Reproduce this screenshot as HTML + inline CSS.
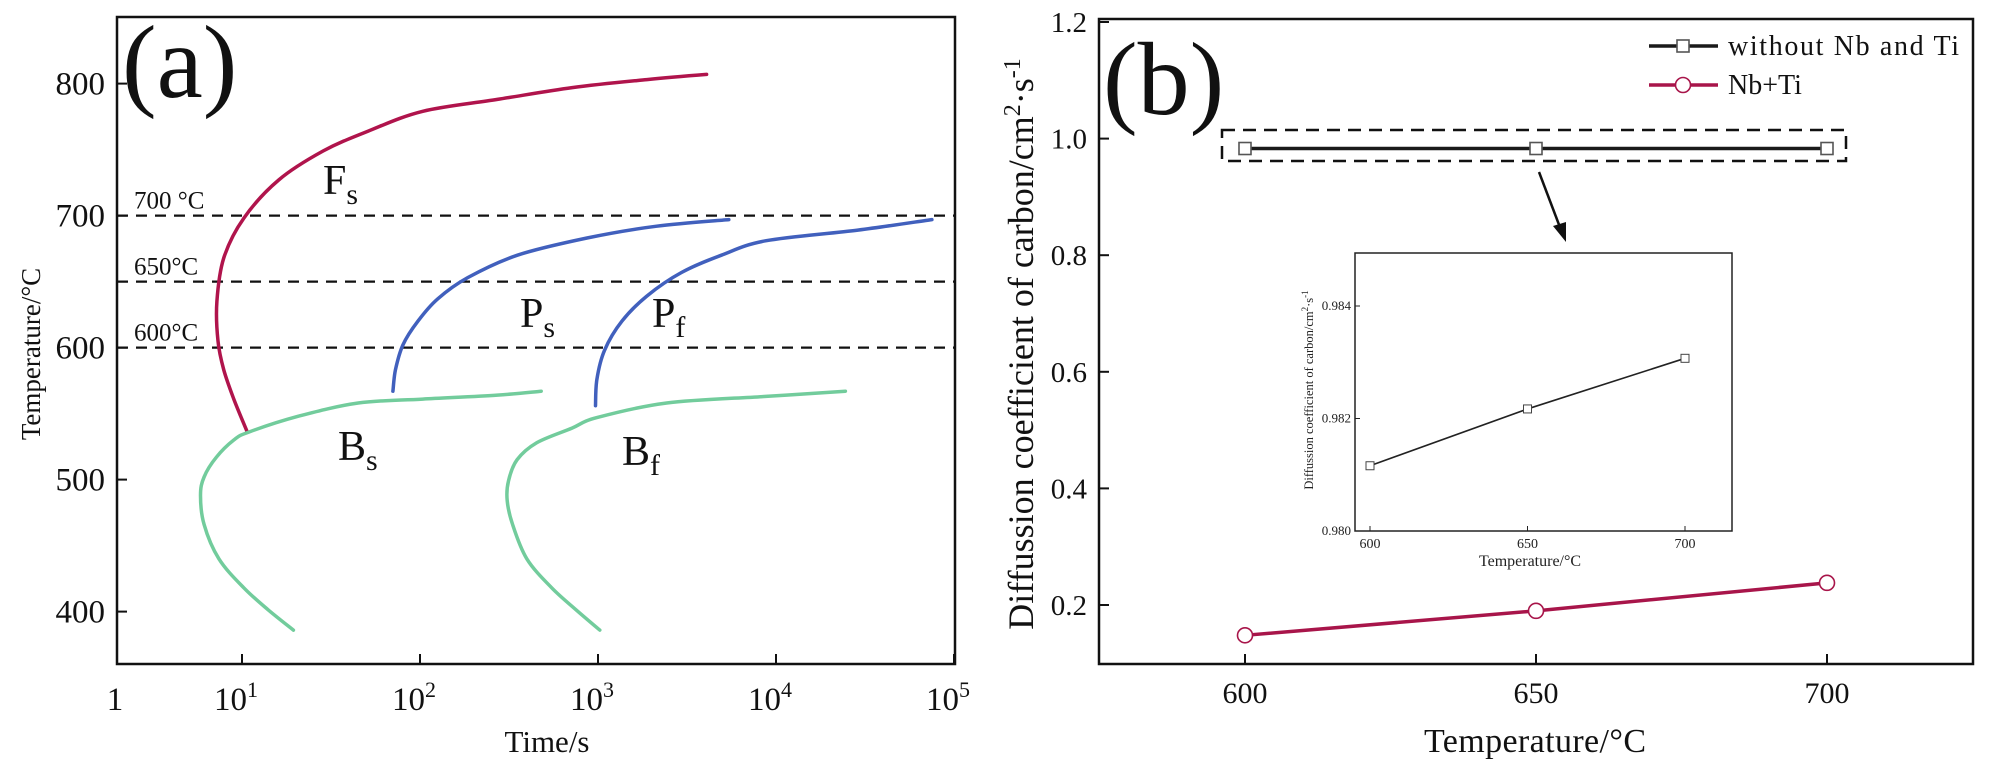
<!DOCTYPE html>
<html><head><meta charset="utf-8"><style>
html,body{margin:0;padding:0;background:#fff;}
svg{display:block;font-family:"Liberation Serif",serif;}
</style></head><body>
<svg id="fig" width="2000" height="762" viewBox="0 0 2000 762" xmlns="http://www.w3.org/2000/svg">
<g id="pa"></g>
<g id="pb"></g>
</svg>
<script>
// ---- Panel (a) data: log10(time) and temperature ----
const aYTicks = [400, 500, 600, 700, 800];
const aXTickExp = [1, 2, 3, 4, 5];
const aIsotherms = [700, 650, 600];
const aIsoLabels = ["700 °C", "650°C", "600°C"];
const fsLogT = [1.03,0.954,0.898,0.865,0.859,0.898,1.01,1.206,1.457,1.709,2.016,2.435,2.855,3.274,3.61];
const fsTemp = [536,561,583,605,635,668,698,727,749,764,779,788,797,803,807];
const psLogT = [1.848,1.862,1.904,1.988,2.1,2.268,2.547,2.938,3.33,3.735];
const psTemp = [567,583,602,620,637,653,670,683,692,697];
const pfLogT = [2.986,2.994,3.037,3.134,3.274,3.47,3.693,3.945,4.46,4.876];
const pfTemp = [556,576,598,620,639,657,670,681,689,697];
const bsLogT = [1.289,1.15,1.01,0.87,0.787,0.767,0.787,0.856,0.954,1.038,1.317,1.653,2.016,2.435,2.681];
const bsTemp = [386,401,418,440,466,488,502,517,530,536,548,558,561,564,567];
const bfLogT = [3.01,2.88,2.74,2.6,2.52,2.49,2.497,2.545,2.657,2.854,2.994,3.386,3.944,4.39];
const bfTemp = [386,401,418,440,466,484,499,515,528,539,547,558,563,567];

// ---- Panel (b) data ----
const bTemps = [600, 650, 700];
const withoutNbTi = [0.983, 0.983, 0.983];
const nbTi = [0.148, 0.19, 0.238];
const bYTicks = [0.2, 0.4, 0.6, 0.8, 1.0, 1.2];
const bXTicks = [600, 650, 700];
const insetValues = [0.98116, 0.98217, 0.98307];
const insetYTicks = [0.980, 0.982, 0.984];

const NS = "http://www.w3.org/2000/svg";
function mk(parent, tag, attrs, text){
  const e = document.createElementNS(NS, tag);
  for (const k in attrs) e.setAttribute(k, attrs[k]);
  if (text !== undefined) e.textContent = text;
  parent.appendChild(e);
  return e;
}
const pa = document.getElementById('pa');
const pb = document.getElementById('pb');

// ===== Panel a axes =====
const A = {l:117, r:955, t:17, b:664};
const ax = lt => 242 + (lt - 1) * 178;
const ay = T => 83.6 + (800 - T) * 1.32;
let e;
e = mk(pa,'rect',{x:A.l,y:A.t,width:A.r-A.l,height:A.b-A.t,fill:'none',stroke:'#111','stroke-width':2.5});


aYTicks.forEach(v=>{
  const y = ay(v);
  let t = mk(pa,'line',{x1:A.l,x2:A.l+10,y1:y,y2:y,stroke:'#111','stroke-width':2});
  
  
  let l = mk(pa,'text',{x:105,y:y+11,'text-anchor':'end','font-size':33,fill:'#111'},String(v));
  
  
});
let l1 = mk(pa,'text',{x:115,y:710,'text-anchor':'middle','font-size':33,fill:'#111'},'1');


aXTickExp.forEach(p=>{
  const x = ax(p);
  let t = mk(pa,'line',{x1:x,x2:x,y1:A.b,y2:A.b-10,stroke:'#111','stroke-width':2});
  
  
  let tx = mk(pa,'text',{x:x-6,y:710,'text-anchor':'middle','font-size':33,fill:'#111'});
  
  
  mk(tx,'tspan',{},'10');
  mk(tx,'tspan',{dy:-13,'font-size':22},String(p));
});
e = mk(pa,'text',{x:547,y:752,'text-anchor':'middle','font-size':31,fill:'#111'},'Time/s');


e = mk(pa,'text',{x:0,y:0,'text-anchor':'middle','font-size':27,fill:'#111',transform:'translate(40,354) rotate(-90)'},'Temperature/°C');


e = mk(pa,'text',{x:122,y:97,'font-size':104,fill:'#111'},'(a)');


aIsotherms.forEach((T,i)=>{
  const y = ay(T);
  let d = mk(pa,'line',{x1:A.l,x2:A.r,y1:y,y2:y,stroke:'#111','stroke-width':2.2,'stroke-dasharray':'11,8'});
  
  
  let lb = mk(pa,'text',{x:134,y:y-7,'font-size':25,fill:'#111'},aIsoLabels[i]);
  
  
});
function smoothPath(P){
  let d = 'M'+P[0][0].toFixed(1)+','+P[0][1].toFixed(1);
  for (let i=0;i<P.length-1;i++){
    const p0 = P[Math.max(0,i-1)], p1 = P[i], p2 = P[i+1], p3 = P[Math.min(P.length-1,i+2)];
    const c1x = p1[0]+(p2[0]-p0[0])/6, c1y = p1[1]+(p2[1]-p0[1])/6;
    const c2x = p2[0]-(p3[0]-p1[0])/6, c2y = p2[1]-(p3[1]-p1[1])/6;
    d += ' C'+c1x.toFixed(1)+','+c1y.toFixed(1)+' '+c2x.toFixed(1)+','+c2y.toFixed(1)+' '+p2[0].toFixed(1)+','+p2[1].toFixed(1);
  }
  return d;
}
function curve(xs, ys, color, name){
  const pts = xs.map((v,i)=>[ax(v), ay(ys[i])]);
  let p = mk(pa,'path',{d:smoothPath(pts),fill:'none',stroke:color,'stroke-width':3.5,'stroke-linejoin':'round','stroke-linecap':'round'});
  
  
}
curve(fsLogT, fsTemp, '#b0144c', 'ferrite-start-curve');
curve(psLogT, psTemp, '#4160bd', 'pearlite-start-curve');
curve(pfLogT, pfTemp, '#4160bd', 'pearlite-finish-curve');
curve(bsLogT, bsTemp, '#72cc9c', 'bainite-start-curve');
curve(bfLogT, bfTemp, '#72cc9c', 'bainite-finish-curve');
function sublabel(x,y,main,sub,name){
  let t = mk(pa,'text',{x:x,y:y,'font-size':42,fill:'#111'});
  
  
  mk(t,'tspan',{},main);
  mk(t,'tspan',{dy:10,'font-size':30},sub);
}
sublabel(323,194,'F','s','label-fs');
sublabel(520,327,'P','s','label-ps');
sublabel(652,327,'P','f','label-pf');
sublabel(338,460,'B','s','label-bs');
sublabel(622,465,'B','f','label-bf');

// ===== Panel b =====
const B = {l:1099, r:1973, t:19, b:664};
const bx = T => 1245 + (T - 600) * 5.82;
const by = v => 605 - (v - 0.2) * 583;
e = mk(pb,'rect',{x:B.l,y:B.t,width:B.r-B.l,height:B.b-B.t,fill:'none',stroke:'#111','stroke-width':2.5});


bYTicks.forEach(v=>{
  const y = by(v);
  let t = mk(pb,'line',{x1:B.l,x2:B.l+10,y1:y,y2:y,stroke:'#111','stroke-width':2});
  
  
  let l = mk(pb,'text',{x:1087,y:y+10,'text-anchor':'end','font-size':29,fill:'#111'},v.toFixed(1));
  
  
});
bXTicks.forEach(v=>{
  const x = bx(v);
  let t = mk(pb,'line',{x1:x,x2:x,y1:B.b,y2:B.b-10,stroke:'#111','stroke-width':2});
  
  
  let l = mk(pb,'text',{x:x,y:703,'text-anchor':'middle','font-size':30,fill:'#111'},String(v));
  
  
});
e = mk(pb,'text',{x:1535,y:752,'text-anchor':'middle','font-size':34,fill:'#111',textLength:222},'Temperature/°C');


e = mk(pb,'text',{x:0,y:0,'text-anchor':'middle','font-size':36,fill:'#111',transform:'translate(1033,344) rotate(-90)'});


mk(e,'tspan',{},'Diffussion coefficient of carbon/cm');
mk(e,'tspan',{dy:-13,'font-size':24},'2');
mk(e,'tspan',{dy:13},'·s');
mk(e,'tspan',{dy:-13,'font-size':24},'-1');
e = mk(pb,'text',{x:1103,y:114,'font-size':104,fill:'#111'},'(b)');


function series(vals, color, marker, name){
  const pts = bTemps.map((t,i)=>bx(t)+','+by(vals[i]));
  let p = mk(pb,'polyline',{points:pts.join(' '),fill:'none',stroke:color,'stroke-width':3.5});
  
  
  bTemps.forEach((t,i)=>{
    let m;
    if (marker==='sq') m = mk(pb,'rect',{x:bx(t)-6,y:by(vals[i])-6,width:12,height:12,fill:'#fff',stroke:'#555','stroke-width':1.6});
    else m = mk(pb,'circle',{cx:bx(t),cy:by(vals[i]),r:7.5,fill:'#fff',stroke:color,'stroke-width':1.6});
    
    
  });
}
series(withoutNbTi,'#1a1a1a','sq','without-nb-ti');
series(nbTi,'#a8154a','ci','nb-ti');
e = mk(pb,'rect',{x:1222,y:130,width:624,height:31,fill:'none',stroke:'#111','stroke-width':2.5,'stroke-dasharray':'13,8'});


e = mk(pb,'line',{x1:1539,y1:172,x2:1561,y2:230,stroke:'#111','stroke-width':2.5});


e = mk(pb,'polygon',{points:'1566,242 1553,226 1566,222',fill:'#111'});


[['without Nb and Ti','#1a1a1a','sq',46],['Nb+Ti','#a8154a','ci',85]].forEach(([lab,c,m,y],i)=>{
  let g = mk(pb,'g',{});
  
  
  mk(g,'line',{x1:1649,x2:1718,y1:y,y2:y,stroke:c,'stroke-width':3.5});
  if (m==='sq') mk(g,'rect',{x:1677,y:y-6,width:12,height:12,fill:'#fff',stroke:'#555','stroke-width':1.6});
  else mk(g,'circle',{cx:1683,cy:y,r:7.5,fill:'#fff',stroke:c,'stroke-width':1.6});
  const tl = i===0 ? {textLength:231} : {};
  mk(g,'text',Object.assign({x:1728,y:y+9,'font-size':28,fill:'#111'},tl),lab);
});
const I = {l:1355, r:1732, t:253, b:531};
const ix = T => 1370 + (T - 600) * 3.15;
const iy = v => 531 - (v - 0.980) * 56250;
e = mk(pb,'rect',{x:I.l,y:I.t,width:I.r-I.l,height:I.b-I.t,fill:'#fff',stroke:'#222','stroke-width':1.5});


insetYTicks.forEach(v=>{
  const y = iy(v);
  let t = mk(pb,'line',{x1:I.l,x2:I.l+5,y1:y,y2:y,stroke:'#222','stroke-width':1});
  
  
  let l = mk(pb,'text',{x:I.l-4,y:y+4,'text-anchor':'end','font-size':13,fill:'#222'},v.toFixed(3));
  
  
});
bTemps.forEach(t=>{
  const x = ix(t);
  let k = mk(pb,'line',{x1:x,x2:x,y1:I.b,y2:I.b-5,stroke:'#222','stroke-width':1});
  
  
  let l = mk(pb,'text',{x:x,y:I.b+17,'text-anchor':'middle','font-size':14,fill:'#222'},String(t));
  
  
});
e = mk(pb,'polyline',{points:bTemps.map((t,i)=>ix(t)+','+iy(insetValues[i])).join(' '),fill:'none',stroke:'#222','stroke-width':1.6});


bTemps.forEach((t,i)=>{
  let m = mk(pb,'rect',{x:ix(t)-4,y:iy(insetValues[i])-4,width:8,height:8,fill:'#fff',stroke:'#444','stroke-width':1});
  
  
});
e = mk(pb,'text',{x:1530,y:566,'text-anchor':'middle','font-size':16,fill:'#222'},'Temperature/°C');


e = mk(pb,'text',{x:0,y:0,'text-anchor':'middle','font-size':12.5,fill:'#222',transform:'translate(1313,390) rotate(-90)'});


mk(e,'tspan',{},'Diffussion coefficient of carbon/cm');
mk(e,'tspan',{dy:-5,'font-size':9},'2');
mk(e,'tspan',{dy:5},'·s');
mk(e,'tspan',{dy:-5,'font-size':9},'-1');
</script>
</body></html>
